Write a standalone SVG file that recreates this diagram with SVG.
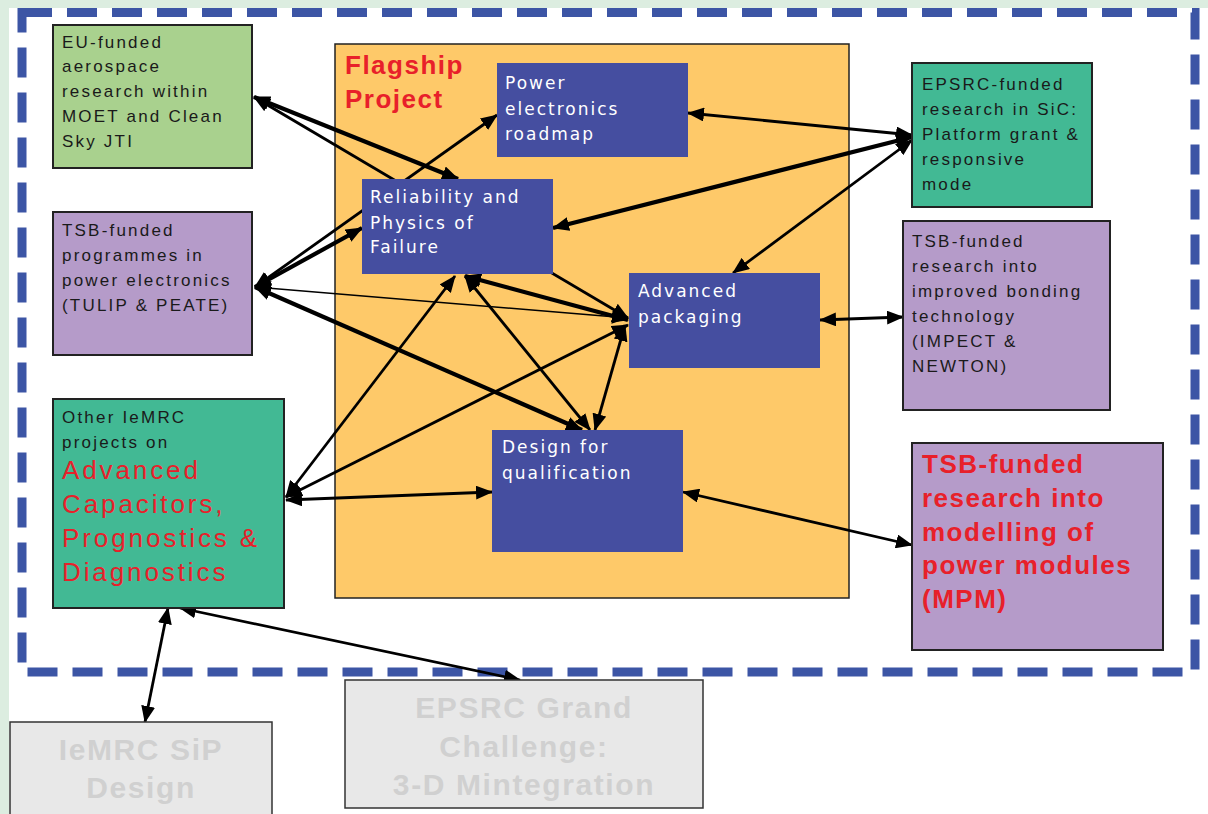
<svg xmlns="http://www.w3.org/2000/svg" width="1208" height="814" viewBox="0 0 1208 814">
<defs>
<style>
.ext{stroke:#222;stroke-width:2}
.blue{fill:#454ea0}
.sm{font-family:"Liberation Sans",Arial,sans-serif;font-size:17px;fill:#1a1a1a;letter-spacing:2.2px}
.wt{font-family:"DejaVu Sans",sans-serif;font-size:17px;fill:#ffffff;letter-spacing:2px}
.red{font-family:"Liberation Sans",Arial,sans-serif;font-size:26px;fill:#e8202a;letter-spacing:2.9px}
.redb{font-family:"Liberation Sans",Arial,sans-serif;font-size:26px;font-weight:bold;fill:#e8202a;letter-spacing:1.5px}
.grey{font-family:"Liberation Sans",Arial,sans-serif;font-size:30px;font-weight:bold;fill:#d0d0d0;letter-spacing:1.6px;text-anchor:middle}
.c{fill:none;stroke:#000;stroke-width:2.8;marker-start:url(#ah);marker-end:url(#ah)}
.t{stroke-width:4.2}
.n{stroke-width:1.6}
</style>
<marker id="ah" viewBox="0 0 17 14" refX="16" refY="7" markerUnits="userSpaceOnUse" markerWidth="17" markerHeight="14" orient="auto-start-reverse">
<path d="M0,0 L17,7 L0,14 Z" fill="#000"/>
</marker>
</defs>
<rect x="0" y="0" width="1208" height="814" fill="#ffffff"/>
<rect x="0" y="0" width="1208" height="8" fill="#dcede0"/>
<rect x="0" y="0" width="9" height="814" fill="#dcede0"/>
<path d="M22,12.5 H1195 V672 H22 Z" fill="none" stroke="#3c55a5" stroke-width="9" stroke-dasharray="30 15"/>

<g id="flagship">
<rect x="335" y="44" width="514" height="554" fill="#fec969" stroke="#222" stroke-width="1.5"/>
<text class="redb" x="345" y="74">Flagship</text>
<text class="redb" x="345" y="108">Project</text>
</g>

<g id="connectors">
<line class="c t" x1="254" y1="97" x2="458" y2="179"/>
<line class="c" x1="254" y1="97" x2="628" y2="318"/>
<line class="c" x1="255" y1="287" x2="497" y2="115"/>
<line class="c t" x1="255" y1="287" x2="362" y2="228"/>
<line class="c n" x1="255" y1="287" x2="628" y2="318"/>
<line class="c t" x1="255" y1="287" x2="582" y2="430"/>
<line class="c" x1="286" y1="497" x2="455" y2="276"/>
<line class="c" x1="286" y1="497" x2="628" y2="325"/>
<line class="c" x1="286" y1="500" x2="492" y2="492"/>
<line class="c" x1="465" y1="276" x2="590" y2="430"/>
<line class="c t" x1="465" y1="276" x2="628" y2="320"/>
<line class="c" x1="625" y1="325" x2="595" y2="430"/>
<line class="c" x1="912" y1="135" x2="688" y2="113"/>
<line class="c t" x1="912" y1="137" x2="553" y2="228"/>
<line class="c" x1="912" y1="140" x2="733" y2="273"/>
<line class="c" x1="820" y1="320" x2="903" y2="317"/>
<line class="c" x1="683" y1="492" x2="912" y2="545"/>
<line class="c" x1="168" y1="608" x2="145" y2="722"/>
<line class="c" x1="180" y1="608" x2="520" y2="680"/>
</g>

<g id="eu">
<rect class="ext" x="53" y="25" width="199" height="143" fill="#a9d18e"/>
<text class="sm" x="62" y="48">EU-funded</text>
<text class="sm" x="62" y="72">aerospace</text>
<text class="sm" x="62" y="97">research within</text>
<text class="sm" x="62" y="122">MOET and Clean</text>
<text class="sm" x="62" y="147">Sky JTI</text>
</g>

<g id="tsb-prog">
<rect class="ext" x="53" y="212" width="199" height="143" fill="#b59bc9"/>
<text class="sm" x="62" y="236">TSB-funded</text>
<text class="sm" x="62" y="261">programmes in</text>
<text class="sm" x="62" y="286">power electronics</text>
<text class="sm" x="62" y="311">(TULIP &amp; PEATE)</text>
</g>

<g id="other-iemrc">
<rect class="ext" x="53" y="399" width="231" height="209" fill="#42b994"/>
<text class="sm" x="62" y="423">Other IeMRC</text>
<text class="sm" x="62" y="448">projects on</text>
<text class="red" x="62" y="479">Advanced</text>
<text class="red" x="62" y="513">Capacitors,</text>
<text class="red" x="62" y="547">Prognostics &amp;</text>
<text class="red" x="62" y="581">Diagnostics</text>
</g>

<g id="roadmap">
<rect class="blue" x="497" y="63" width="191" height="94"/>
<text class="wt" x="505" y="89">Power</text>
<text class="wt" x="505" y="115">electronics</text>
<text class="wt" x="505" y="140">roadmap</text>
</g>

<g id="reliability">
<rect class="blue" x="362" y="179" width="191" height="95"/>
<text class="wt" x="370" y="203">Reliability and</text>
<text class="wt" x="370" y="229">Physics of</text>
<text class="wt" x="370" y="253">Failure</text>
</g>

<g id="packaging">
<rect class="blue" x="629" y="273" width="191" height="95"/>
<text class="wt" x="638" y="297">Advanced</text>
<text class="wt" x="638" y="323">packaging</text>
</g>

<g id="dfq">
<rect class="blue" x="492" y="430" width="191" height="122"/>
<text class="wt" x="502" y="453">Design for</text>
<text class="wt" x="502" y="479">qualification</text>
</g>

<g id="epsrc-sic">
<rect class="ext" x="912" y="63" width="180" height="144" fill="#42b994"/>
<text class="sm" x="922" y="90">EPSRC-funded</text>
<text class="sm" x="922" y="115">research in SiC:</text>
<text class="sm" x="922" y="140">Platform grant &amp;</text>
<text class="sm" x="922" y="165">responsive</text>
<text class="sm" x="922" y="190">mode</text>
</g>

<g id="tsb-bonding">
<rect class="ext" x="903" y="221" width="207" height="189" fill="#b59bc9"/>
<text class="sm" x="912" y="247">TSB-funded</text>
<text class="sm" x="912" y="272">research into</text>
<text class="sm" x="912" y="297">improved bonding</text>
<text class="sm" x="912" y="322">technology</text>
<text class="sm" x="912" y="347">(IMPECT &amp;</text>
<text class="sm" x="912" y="372">NEWTON)</text>
</g>

<g id="tsb-mpm">
<rect class="ext" x="912" y="443" width="251" height="207" fill="#b59bc9"/>
<text class="redb" x="922" y="473">TSB-funded</text>
<text class="redb" x="922" y="507">research into</text>
<text class="redb" x="922" y="541">modelling of</text>
<text class="redb" x="922" y="574">power modules</text>
<text class="redb" x="922" y="608">(MPM)</text>
</g>

<g id="sip">
<rect x="10" y="722" width="262" height="100" fill="#e8e8e8" stroke="#333" stroke-width="1.5"/>
<text class="grey" x="141" y="760">IeMRC SiP</text>
<text class="grey" x="141" y="798">Design</text>
</g>

<g id="grand">
<rect x="345" y="680" width="358" height="128" fill="#e8e8e8" stroke="#333" stroke-width="1.5"/>
<text class="grey" x="524" y="718">EPSRC Grand</text>
<text class="grey" x="524" y="757">Challenge:</text>
<text class="grey" x="524" y="795">3-D Mintegration</text>
</g>
</svg>
